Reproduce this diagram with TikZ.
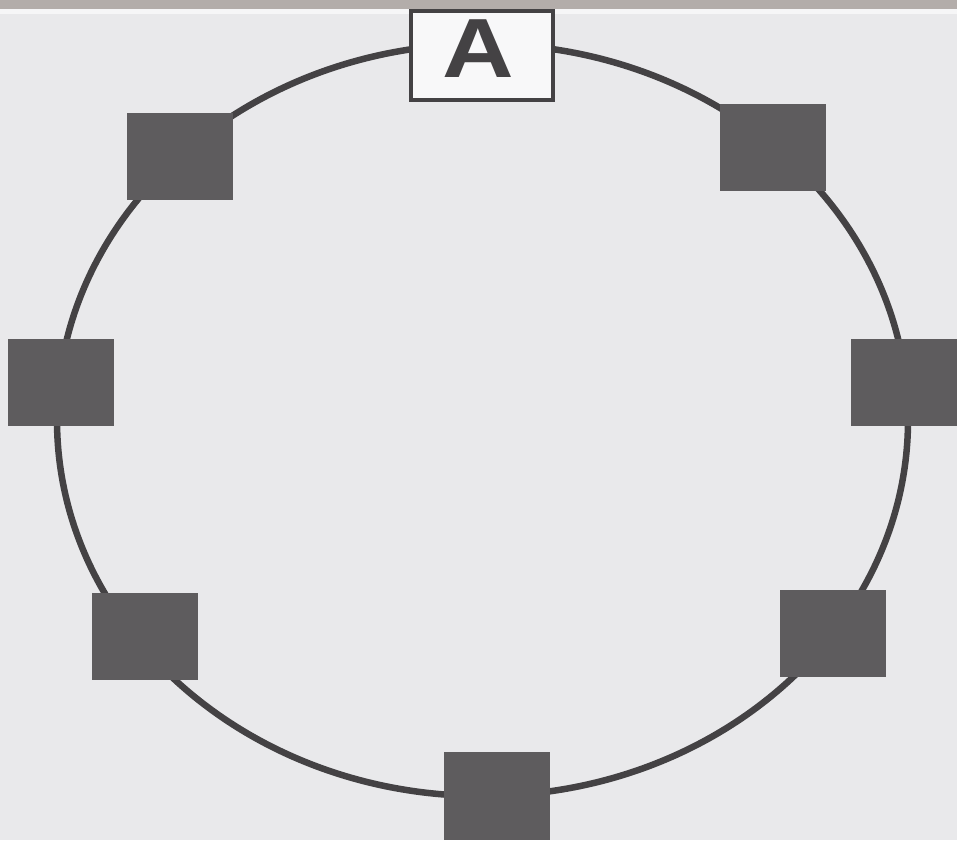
\documentclass[tikz,border=0pt]{standalone}
\usepackage{fontspec}
\setmainfont{Liberation Sans}
\definecolor{paper}{HTML}{E9E9EB}
\definecolor{ink}{HTML}{444244}
\definecolor{boxgray}{HTML}{5E5C5E}
\definecolor{edge}{HTML}{B3ADAA}
\tikzset{
  ring/.style={draw=ink, line width=6.5pt},
  pad/.style={fill=boxgray, draw=none, minimum width=106pt, minimum height=87pt, inner sep=0pt},
  labelbox/.style={fill=white!70!paper, draw=ink, line width=4pt, minimum width=142pt, minimum height=89pt, inner sep=0pt},
  letter/.style={inner sep=0pt, font=\fontsize{84}{84}\selectfont\bfseries, text=ink}
}
\begin{document}
\begin{tikzpicture}[x=1pt,y=-1pt]
\useasboundingbox (0,0) rectangle (957,840);
\fill[paper] (0,0) rectangle (957,840);
\fill[edge] (0,0) rectangle (957,9);
\fill[white!60!paper] (0,9) rectangle (957,14);
\draw[ring] (482.5,420) ellipse [x radius=425.5, y radius=376];
\node[labelbox] (A) at (482,56) {};
\node[letter, anchor=base] (Aletter) at (478,78) {\scalebox{1.18}[1]{A}};
\node[pad] (tl) at (180,156.5) {};
\node[pad] (tr) at (773,147.5) {};
\node[pad] (l) at (61,382.5) {};
\node[pad] (r) at (904,382.5) {};
\node[pad] (bl) at (145,636.5) {};
\node[pad] (br) at (832.5,633.5) {};
\node[pad, minimum height=88pt] (b) at (497,796) {};
\end{tikzpicture}
\end{document}
